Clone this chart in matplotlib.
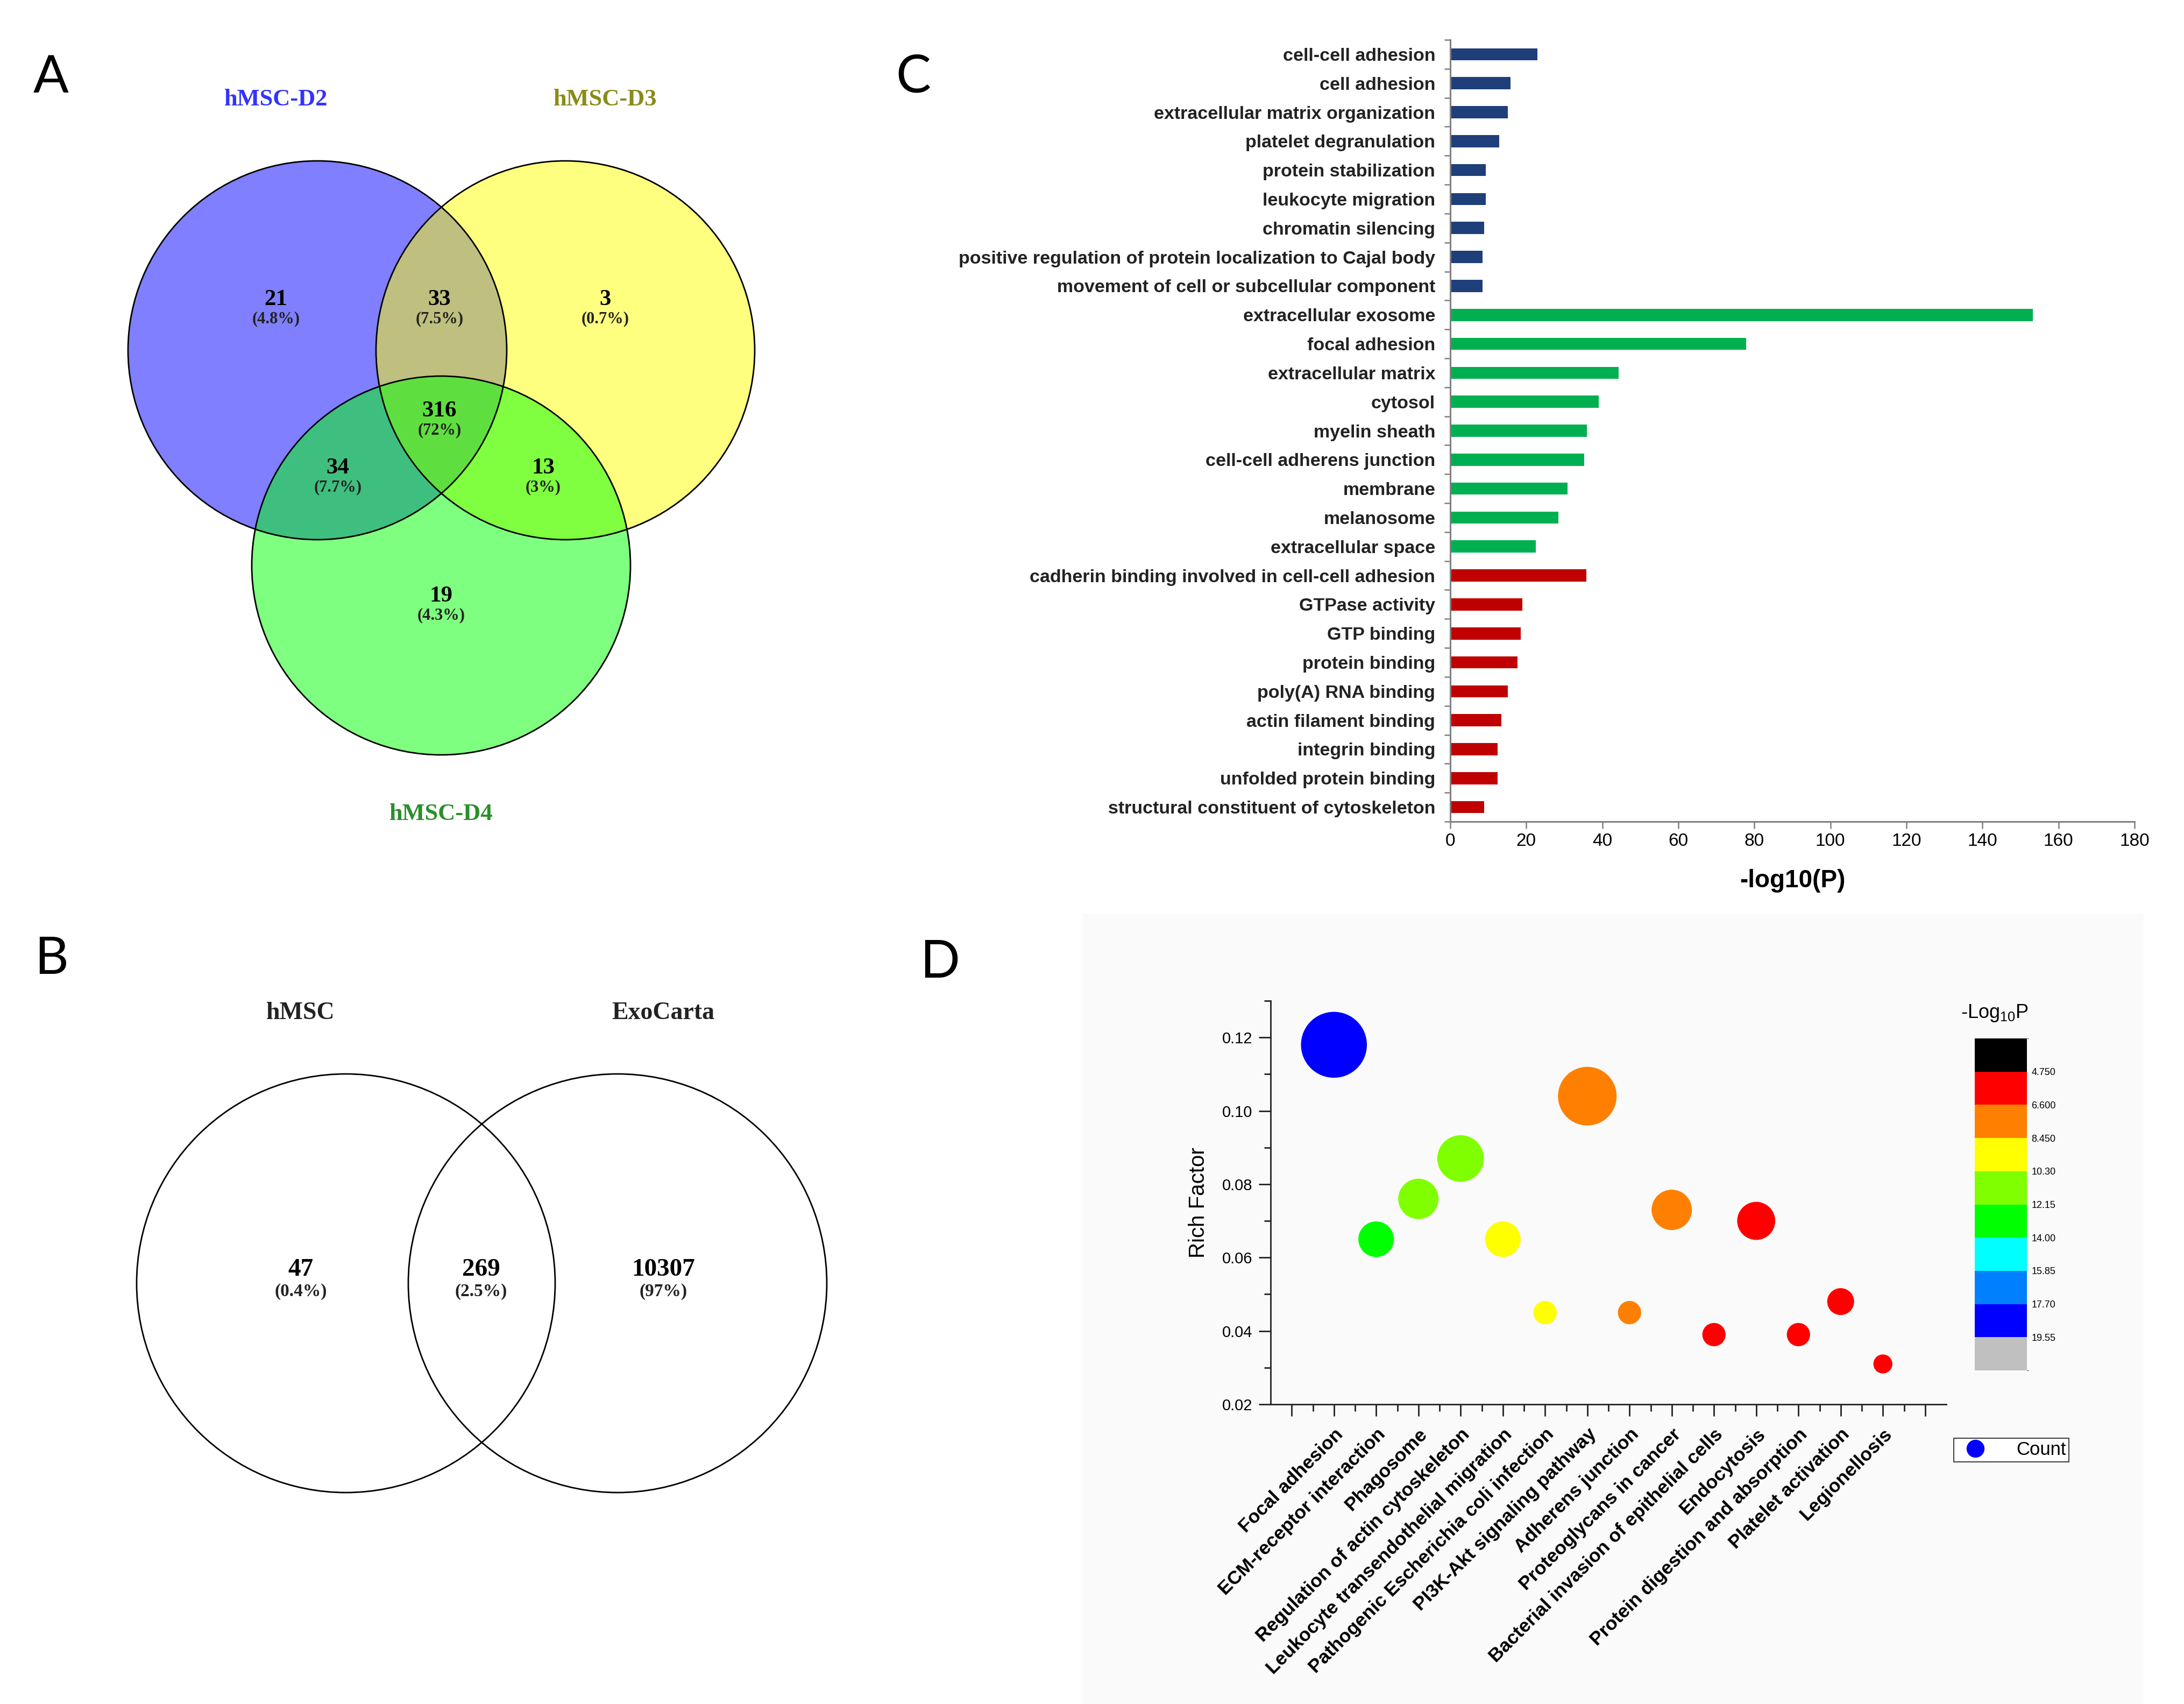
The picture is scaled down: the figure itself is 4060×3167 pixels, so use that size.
import matplotlib
matplotlib.use("Agg")
import numpy as np
import matplotlib.pyplot as plt
from matplotlib.patches import Circle, Rectangle
from matplotlib.colors import ListedColormap, BoundaryNorm
from matplotlib.cm import ScalarMappable
from matplotlib.lines import Line2D

plt.rcParams['font.family'] = ['Liberation Sans', 'DejaVu Sans']
plt.rcParams['mathtext.default'] = 'regular'

# ---------------- data ----------------
# A: three-way Venn (D2 only, D2&D3, D3 only, D2&D4, all, D3&D4, D4 only)
venn3_sets = ["hMSC-D2", "hMSC-D3", "hMSC-D4"]
venn3_counts = [21, 33, 3, 34, 316, 13, 19]
venn3_pct = ["4.8%", "7.5%", "0.7%", "7.7%", "72%", "3%", "4.3%"]

# B: two-way Venn (hMSC only, both, ExoCarta only)
venn2_sets = ["hMSC", "ExoCarta"]
venn2_counts = [47, 269, 10307]
venn2_pct = ["0.4%", "2.5%", "97%"]

# C: GO enrichment
go_terms = ["cell-cell adhesion", "cell adhesion", "extracellular matrix organization",
            "platelet degranulation", "protein stabilization", "leukocyte migration",
            "chromatin silencing", "positive regulation of protein localization to Cajal body",
            "movement of cell or subcellular component",
            "extracellular exosome", "focal adhesion", "extracellular matrix", "cytosol",
            "myelin sheath", "cell-cell adherens junction", "membrane", "melanosome",
            "extracellular space",
            "cadherin binding involved in cell-cell adhesion", "GTPase activity", "GTP binding",
            "protein binding", "poly(A) RNA binding", "actin filament binding",
            "integrin binding", "unfolded protein binding", "structural constituent of cytoskeleton"]
go_values = [22.9, 15.9, 15.1, 12.9, 9.4, 9.4, 8.9, 8.5, 8.5,
             153.2, 77.9, 44.3, 39.1, 36.0, 35.3, 30.8, 28.4, 22.5,
             35.8, 19.0, 18.5, 17.7, 15.1, 13.5, 12.4, 12.4, 8.9]
go_groups = ["BP"] * 9 + ["CC"] * 9 + ["MF"] * 9

# D: KEGG bubble chart
kegg_terms = ["Focal adhesion", "ECM-receptor interaction", "Phagosome",
              "Regulation of actin cytoskeleton", "Leukocyte transendothelial migration",
              "Pathogenic Escherichia coli infection", "PI3K-Akt signaling pathway",
              "Adherens junction", "Proteoglycans in cancer",
              "Bacterial invasion of epithelial cells", "Endocytosis",
              "Protein digestion and absorption", "Platelet activation", "Legionellosis"]
kegg_rich = [0.118, 0.065, 0.076, 0.087, 0.065, 0.045, 0.104, 0.045, 0.073,
             0.039, 0.070, 0.039, 0.048, 0.031]
kegg_logp = [18.5, 13.0, 11.0, 11.5, 9.0, 8.6, 7.5, 7.0, 7.2, 5.5, 5.8, 5.2, 5.0, 4.9]
kegg_count = [24, 7, 9, 12, 7, 3, 19, 3, 9, 3, 8, 3, 4, 2]

logp_bounds = [4.75, 6.6, 8.45, 10.3, 12.15, 14.0, 15.85, 17.7, 19.55]
logp_ticklabels = ["4.750", "6.600", "8.450", "10.30", "12.15", "14.00", "15.85", "17.70", "19.55"]

# ---------------- figure ----------------
W, H = 4060, 3167
fig = plt.figure(figsize=(W / 100, H / 100), dpi=100)

bg = fig.add_axes([0, 0, 1, 1])
bg.set_xlim(0, W)
bg.set_ylim(H, 0)
bg.axis("off")

serif = ["Liberation Serif", "DejaVu Serif"]
letter_font = ["Lato", "DejaVu Sans"]

# panel letters
for lab, (lx, ly) in zip("ABCD", [(62, 172), (64, 1810), (1665, 172), (1710, 1817)]):
    bg.text(lx, ly, lab, fontsize=70, family=letter_font, ha="left", va="baseline")

# panel D soft background
bg.add_patch(Rectangle((2013, 1698), 1972, 1469, facecolor="#fafafa", edgecolor="none", zorder=0))

# ---- A: three-set venn ----
c3 = [(590, 651), (1051, 651), (820, 1051)]
r3 = 352
fills = ["#0000ff", "#ffff00", "#00ff00"]
for (cx, cy), fc in zip(c3, fills):
    bg.add_patch(Circle((cx, cy), r3, facecolor=fc, alpha=0.5, edgecolor="none"))
for cx, cy in c3:
    bg.add_patch(Circle((cx, cy), r3, facecolor="none", edgecolor="black", lw=2))

pos3 = [(513, 557), (817, 557), (1125, 557), (628, 870), (817, 764), (1010, 870), (820, 1108)]
for (px, py), n, p in zip(pos3, venn3_counts, venn3_pct):
    bg.text(px, py, str(n), family=serif, fontweight="bold", fontsize=31, ha="center", va="center")
    bg.text(px, py + 36, "(" + p + ")", family=serif, fontweight="bold", fontsize=22,
            ha="center", va="center", color="#222222")

set3_pos = [(513, 185), (1125, 185), (820, 1513)]
set3_col = ["#3333ff", "#8a8a1a", "#2a8f2a"]
for (px, py), name, col in zip(set3_pos, venn3_sets, set3_col):
    bg.text(px, py, name, family=serif, fontweight="bold", fontsize=32, color=col,
            ha="center", va="center")

# ---- B: two-set venn ----
c2 = [(643, 2385), (1148, 2385)]
r2 = 389
for cx, cy in c2:
    bg.add_patch(Circle((cx, cy), r2, facecolor="none", edgecolor="black", lw=2))
pos2 = [(559, 2360), (894, 2360), (1233, 2360)]
for (px, py), n, p in zip(pos2, venn2_counts, venn2_pct):
    bg.text(px, py, str(n), family=serif, fontweight="bold", fontsize=34, ha="center", va="center")
    bg.text(px, py + 41, "(" + p + ")", family=serif, fontweight="bold", fontsize=24,
            ha="center", va="center", color="#222222")
for (px, py), name in zip([(559, 1883), (1233, 1883)], venn2_sets):
    bg.text(px, py, name, family=serif, fontweight="bold", fontsize=33, color="#222222",
            ha="center", va="center")

# ---- C: GO bar chart ----
group_colors = {"BP": "#1f3f7a", "CC": "#00b050", "MF": "#c00000"}
axc = fig.add_axes([2696 / W, 1 - 1527 / H, (3968 - 2696) / W, (1527 - 74) / H])
yc = np.arange(len(go_terms))
axc.barh(yc, go_values, height=0.42, color=[group_colors[g] for g in go_groups])
axc.set_ylim(len(go_terms) - 0.5, -0.5)
axc.set_xlim(0, 180)
axc.set_xticks(np.arange(0, 181, 20))
axc.set_yticks(yc)
axc.set_yticklabels(go_terms, fontsize=24.5, fontweight="bold", color="#222222")
axc.set_yticks(np.arange(-0.5, len(go_terms)), minor=True)
axc.tick_params(axis="y", which="major", length=0, pad=20)
axc.tick_params(axis="y", which="minor", length=8, width=1.8, color="#808080")
axc.tick_params(axis="x", length=9, width=1.8, color="#808080", labelsize=24, pad=6)
for s in ["top", "right"]:
    axc.spines[s].set_visible(False)
for s in ["left", "bottom"]:
    axc.spines[s].set_color("#808080")
    axc.spines[s].set_linewidth(2.2)
axc.set_xlabel("-log10(P)", fontsize=33, fontweight="bold", labelpad=26)

# ---- D: KEGG bubble chart ----
colors_d = ["#000000", "#ff0000", "#ff8000", "#ffff00", "#80ff00", "#00ff00",
            "#00ffff", "#0080ff", "#0000ff", "#c0c0c0"]
cmap = ListedColormap(colors_d)
bounds = [2.9] + logp_bounds + [21.4]
norm = BoundaryNorm(bounds, cmap.N)

axd = fig.add_axes([2362 / W, 1 - 2610 / H, (3618 - 2362) / W, (2610 - 1860) / H])
axd.set_facecolor("none")
xd = np.arange(1, len(kegg_terms) + 1)
axd.scatter(xd, kegg_rich, s=np.array(kegg_count) * 324, c=kegg_logp, cmap=cmap, norm=norm,
            edgecolors="none", zorder=3)
axd.set_xlim(-0.5, len(kegg_terms) + 1.5)
axd.set_ylim(0.02, 0.13)
axd.set_xticks(np.arange(0, len(kegg_terms) + 2))
axd.set_xticklabels([""] + kegg_terms + [""], rotation=45, ha="right", rotation_mode="anchor",
                    fontsize=25.5, fontweight="bold")
axd.set_xticks(np.arange(0.5, len(kegg_terms) + 1.5), minor=True)
axd.set_yticks(np.arange(0.02, 0.121, 0.02))
axd.set_yticklabels(["%.2f" % v for v in np.arange(0.02, 0.121, 0.02)])
axd.set_yticks(np.arange(0.03, 0.131, 0.02), minor=True)
axd.tick_params(axis="both", which="major", length=16, width=2, direction="out", color="#222222")
axd.tick_params(axis="both", which="minor", length=9, width=2, direction="out", color="#222222")
axd.tick_params(axis="y", labelsize=21, pad=8)
axd.tick_params(axis="x", pad=12)
for s in ["top", "right"]:
    axd.spines[s].set_visible(False)
for s in ["left", "bottom"]:
    axd.spines[s].set_linewidth(2)
    axd.spines[s].set_color("#222222")
axd.set_ylabel("Rich Factor", fontsize=29, labelpad=18)

cax = fig.add_axes([3671 / W, 1 - 2547 / H, 97 / W, 617 / H])
cb = fig.colorbar(ScalarMappable(norm=norm, cmap=cmap), cax=cax, ticks=logp_bounds,
                  spacing="uniform")
cax.invert_yaxis()
cb.set_ticklabels(logp_ticklabels)
cb.ax.tick_params(length=0, labelsize=13, pad=6)
cb.outline.set_visible(False)
fig.text(3708 / W, 1 - 1892 / H, "-Log$_{10}$P", ha="center", va="baseline", fontsize=26)

handle = Line2D([], [], marker="o", ls="none", markerfacecolor="#0000ff",
                markeredgecolor="none", markersize=24)
leg = fig.legend([handle], ["Count"], loc="center", bbox_to_anchor=(3739 / W, 1 - 2695 / H),
                 frameon=True, fancybox=False, edgecolor="#444444", fontsize=25,
                 borderpad=0.15, handletextpad=1.2, framealpha=1, borderaxespad=0)
leg.get_frame().set_linewidth(1.5)

fig.savefig("out.png", dpi=100)
